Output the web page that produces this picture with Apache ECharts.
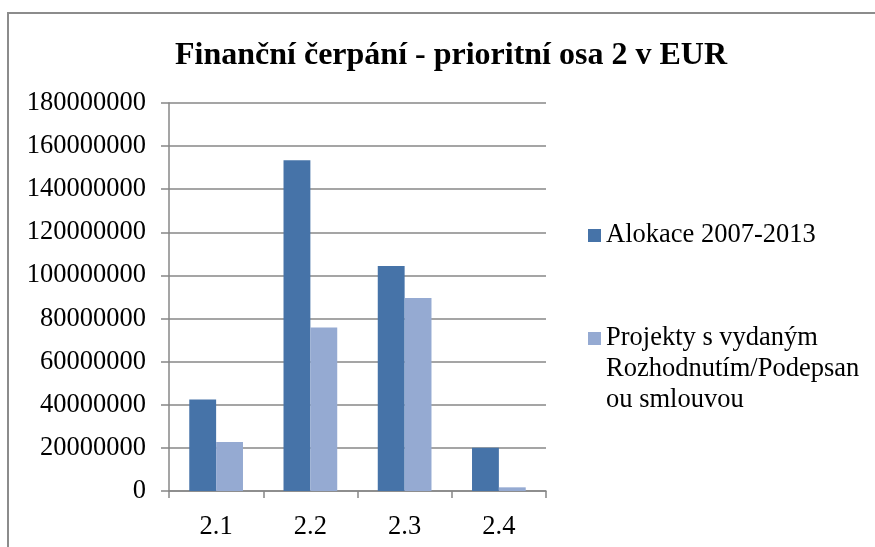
<!DOCTYPE html>
<html>
<head>
<meta charset="utf-8">
<script src="https://cdn.jsdelivr.net/npm/echarts@6/dist/echarts.min.js"></script>
<style>
  html, body { margin: 0; padding: 0; background: #fff; }
  #chart { width: 875px; height: 547px; }
</style>
</head>
<body>
<div id="chart"></div>
<script>
// data
var categories = ['2.1', '2.2', '2.3', '2.4'];
var alokace = [42500000, 153400000, 104400000, 20100000];
var projekty = [22700000, 75900000, 89500000, 1700000];
var seriesNames = ['Alokace 2007-2013', 'Projekty s vydaným Rozhodnutím/Podepsanou smlouvou'];
var yMax = 180000000;
var yStep = 20000000;

var serif = "'Liberation Serif', 'Times New Roman', serif";
var gridGray = '#878787';

var myChart = echarts.init(document.getElementById('chart'));

var option = {
    backgroundColor: '#fff',
    animation: false,
    title: {
        text: 'Finanční čerpání - prioritní osa 2 v EUR',
        left: 175,
        top: 40,
        padding: 0,
        textStyle: {
            fontFamily: serif,
            fontWeight: 'bold',
            fontSize: 32,
            color: '#000'
        }
    },
    legend: {
        orient: 'vertical',
        left: 588,
        top: 220,
        padding: 0,
        itemWidth: 13,
        itemHeight: 13,
        itemGap: 10,
        selectedMode: false,
        icon: 'rect',
        textStyle: {
            fontFamily: serif,
            fontSize: 26.5,
            lineHeight: 31,
            color: '#000'
        },
        formatter: function (name) {
            // two empty lines on top so the icon sits beside the first text line
            if (name === seriesNames[1]) {
                return ' \n \nProjekty s vydaným\nRozhodnutím/Podepsan\nou smlouvou';
            }
            return name;
        },
        data: seriesNames
    },
    grid: {
        left: 169,
        right: 329,
        top: 103,
        bottom: 56
    },
    xAxis: {
        type: 'category',
        data: categories,
        axisLine: { lineStyle: { color: gridGray, width: 1.5 } },
        axisTick: { show: true, length: 7, lineStyle: { color: gridGray, width: 1.5 } },
        axisLabel: {
            fontFamily: serif,
            fontSize: 26.5,
            color: '#000',
            margin: 23
        }
    },
    yAxis: {
        type: 'value',
        min: 0,
        max: yMax,
        interval: yStep,
        axisLine: { show: true, lineStyle: { color: gridGray, width: 1.5 } },
        axisTick: { show: true, length: 8, lineStyle: { color: gridGray, width: 1.5 } },
        splitLine: { lineStyle: { color: gridGray, width: 1.5 } },
        axisLabel: {
            fontFamily: serif,
            fontSize: 26.5,
            color: '#000',
            margin: 23,
            formatter: function (v) { return String(v); }
        }
    },
    series: [
        {
            name: seriesNames[0],
            type: 'bar',
            data: alokace,
            barGap: '0%',
            barCategoryGap: '43%',
            itemStyle: { color: '#4673A8' }
        },
        {
            name: seriesNames[1],
            type: 'bar',
            data: projekty,
            itemStyle: { color: '#95AAD2' }
        }
    ],
    graphic: [
        {
            type: 'polyline',
            shape: { points: [[8, 547], [8, 13], [875, 13]] },
            style: { stroke: '#8c8c8c', lineWidth: 2, fill: null },
            silent: true
        }
    ]
};

myChart.setOption(option);
</script>
</body>
</html>
